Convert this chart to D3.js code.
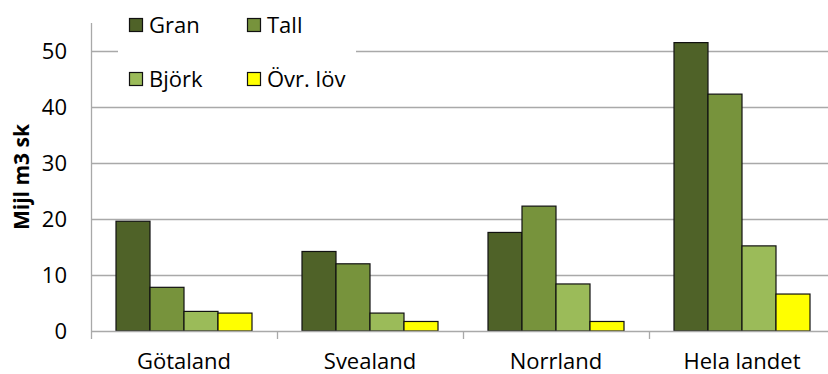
<!DOCTYPE html>
<html>
<head>
<meta charset="utf-8">
<script src="https://cdn.jsdelivr.net/npm/d3@7"></script>
<style>
  html, body { margin: 0; padding: 0; background: #fff; }
  svg { display: block; font-family: "Open Sans", sans-serif; }
</style>
</head>
<body>
<svg id="chart" width="828" height="374"></svg>
<script>
// Regions and tree species
const categories = ["Götaland", "Svealand", "Norrland", "Hela landet"];
const species = ["Gran", "Tall", "Björk", "Övr. löv"];

// Volume per species (Mijl m3 sk), one entry per region
const gran  = [19.6, 14.2, 17.6, 51.5];
const tall  = [7.8, 12.0, 22.3, 42.3];
const bjork = [3.5, 3.2, 8.4, 15.2];
const ovrLov = [3.2, 1.7, 1.7, 6.6];

const yTicks = [0, 10, 20, 30, 40, 50];
const yTitle = "Mijl m3 sk";

const colors = ["#4f6228", "#77933c", "#9bbb59", "#ffff00"];

const seriesValues = [gran, tall, bjork, ovrLov];
const rows = categories.map((c, i) => ({
  category: c,
  values: species.map((s, j) => ({ species: s, value: seriesValues[j][i] }))
}));

const svg = d3.select("#chart");
const plot = { left: 91, right: 835, top: 23, bottom: 331 };

const x0 = d3.scaleBand().domain(categories).range([plot.left, plot.right]).padding(0);
const x1 = d3.scaleBand().domain(species).range([25, x0.bandwidth() - 25]).padding(0);
const y = d3.scaleLinear().domain([0, 55]).range([plot.bottom, plot.top]);
const color = d3.scaleOrdinal().domain(species).range(colors);

// Horizontal gridlines
svg.append("g")
  .selectAll("line")
  .data(yTicks.filter(t => t > 0))
  .join("line")
  .attr("x1", plot.left).attr("x2", plot.right)
  .attr("y1", d => Math.round(y(d)) + 0.5).attr("y2", d => Math.round(y(d)) + 0.5)
  .attr("stroke", "#a9a9a9").attr("stroke-width", 1.3);

// Y axis: line and labels
const yAxis = svg.append("g").attr("transform", `translate(${plot.left},0)`)
  .call(d3.axisLeft(y).tickValues(yTicks).tickSize(0).tickPadding(24));
yAxis.select(".domain").remove();
yAxis.selectAll("text")
  .attr("font-family", "Open Sans").attr("font-size", 22).attr("fill", "#000");
svg.append("line")
  .attr("x1", plot.left + 0.5).attr("x2", plot.left + 0.5)
  .attr("y1", plot.top).attr("y2", plot.bottom + 8)
  .attr("stroke", "#a9a9a9").attr("stroke-width", 1.3);

// Bars
const groups = svg.append("g")
  .selectAll("g")
  .data(rows)
  .join("g")
  .attr("transform", d => `translate(${x0(d.category)},0)`);

groups.selectAll("rect")
  .data(d => d.values)
  .join("rect")
  .attr("x", d => x1(d.species))
  .attr("width", x1.bandwidth())
  .attr("y", d => y(d.value))
  .attr("height", d => y(0) - y(d.value))
  .attr("fill", d => color(d.species))
  .attr("stroke", "#111")
  .attr("stroke-width", 1.2);

// X axis: baseline, boundary ticks and category labels
const xAxis = svg.append("g").attr("transform", `translate(0,${plot.bottom})`);
xAxis.append("line")
  .attr("x1", plot.left).attr("x2", plot.right)
  .attr("y1", 0.5).attr("y2", 0.5)
  .attr("stroke", "#a9a9a9").attr("stroke-width", 1.3);
xAxis.selectAll("line.tick")
  .data(categories.slice(1))
  .join("line")
  .attr("class", "tick")
  .attr("x1", d => x0(d) + 0.5).attr("x2", d => x0(d) + 0.5)
  .attr("y1", 0).attr("y2", 8)
  .attr("stroke", "#a9a9a9").attr("stroke-width", 1.3);
xAxis.selectAll("text")
  .data(categories)
  .join("text")
  .attr("x", d => x0(d) + x0.bandwidth() / 2)
  .attr("y", 38)
  .attr("text-anchor", "middle")
  .attr("font-size", 22)
  .attr("fill", "#000")
  .text(d => d);

// Y axis title
svg.append("text")
  .attr("transform", "translate(29,177) rotate(-90)")
  .attr("text-anchor", "middle")
  .attr("font-size", 21)
  .attr("font-weight", "bold")
  .attr("fill", "#000")
  .text(yTitle);

// Legend on a white panel over the gridlines
const legend = svg.append("g");
legend.append("rect")
  .attr("x", 118).attr("y", 4).attr("width", 238).attr("height", 92)
  .attr("fill", "#fff");
const legendPos = [[129, 18], [247, 18], [129, 72], [247, 72]];
const items = legend.selectAll("g.item")
  .data(species)
  .join("g")
  .attr("class", "item")
  .attr("transform", (d, i) => `translate(${legendPos[i][0]},${legendPos[i][1]})`);
items.append("rect")
  .attr("x", 0.5).attr("y", 0.5).attr("width", 13).attr("height", 13)
  .attr("fill", d => color(d))
  .attr("stroke", "#111").attr("stroke-width", 1.2);
items.append("text")
  .attr("x", 20).attr("y", 7).attr("dy", "0.35em")
  .attr("font-size", 22)
  .attr("fill", "#000")
  .text(d => d);
</script>
</body>
</html>
